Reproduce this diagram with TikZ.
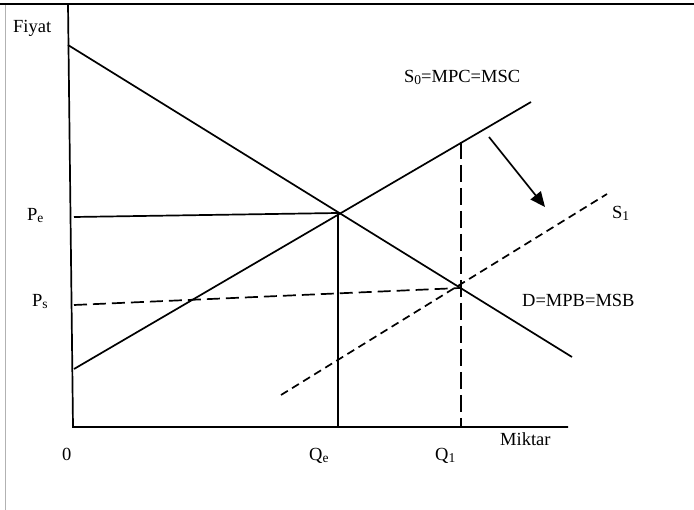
\documentclass[tikz,border=0pt]{standalone}
\usepackage{fontspec}
\setmainfont{Liberation Serif}
\usetikzlibrary{arrows.meta}
\tikzset{
  ln/.style={line width=1.7pt, black},
  dsh/.style={line width=1.7pt, black, dash pattern=on 9pt off 5pt},
  lbl/.style={font=\fontsize{18.5}{22}\selectfont, inner sep=0pt, anchor=base west},
}
\newcommand{\sbx}[1]{\raisebox{-0.15ex}{\fontsize{13.5}{15}\selectfont #1}}
\begin{document}
\begin{tikzpicture}[x=1pt,y=-1pt]
\useasboundingbox (0,0) rectangle (694,510);
% frame
\draw[line width=1.8pt] (0,4) -- (694,4);
\draw[line width=0.6pt, gray!60] (5,5) -- (5,510);
% axes
\coordinate (ytop) at (68,4);
\coordinate (orig) at (73,427);
\coordinate (xend) at (568,427);
\draw[ln] (ytop) -- (orig) -- (xend);
% demand
\coordinate (d1) at (68,45);
\coordinate (d2) at (572,357);
\draw[ln] (d1) -- (d2);
% supply S0
\coordinate (s1) at (74,369);
\coordinate (s2) at (531,102);
\draw[ln] (s1) -- (s2);
% equilibrium
\coordinate (E) at (338,213);
\coordinate (pe) at (74,217);
\coordinate (qe) at (338,427);
\draw[ln] (pe) -- (E) -- (qe);
% S1
\coordinate (t1) at (281,395);
\coordinate (t2) at (607,194);
\draw[dsh, dash pattern=on 8pt off 5pt] (t1) -- (t2);
% Ps line
\coordinate (ps) at (74,305);
\coordinate (F) at (460,288);
\draw[dsh, dash pattern=on 13pt off 6pt] (ps) -- (F);
% Q1 dashed
\coordinate (q1top) at (461,142);
\coordinate (q1) at (461,427);
\draw[dsh, dash pattern=on 17pt off 6pt] (q1top) -- (q1);
% arrow
\coordinate (a1) at (489,137);
\coordinate (a2) at (545,207);
\draw[line width=1.7pt, -{Triangle[length=15pt,width=13pt]}] (a1) -- (a2);
% labels
\node[lbl] (fiyat) at (13,33) {Fiyat};
\node[lbl] (lpe) at (27,221) {P\sbx{e}};
\node[lbl] (lps) at (32,307) {P\sbx{s}};
\node[lbl] (l0) at (62,461) {0};
\node[lbl] (lqe) at (309,461) {Q\sbx{e}};
\node[lbl] (lq1) at (435,461) {Q\sbx{1}};
\node[lbl] (mik) at (500,446) {Miktar};
\node[lbl] (ls0) at (404,83) {S\sbx{0}=MPC=MSC};
\node[lbl] (ls1) at (612,219) {S\sbx{1}};
\node[lbl] (ld) at (522,307) {D=MPB=MSB};
\end{tikzpicture}
\end{document}
